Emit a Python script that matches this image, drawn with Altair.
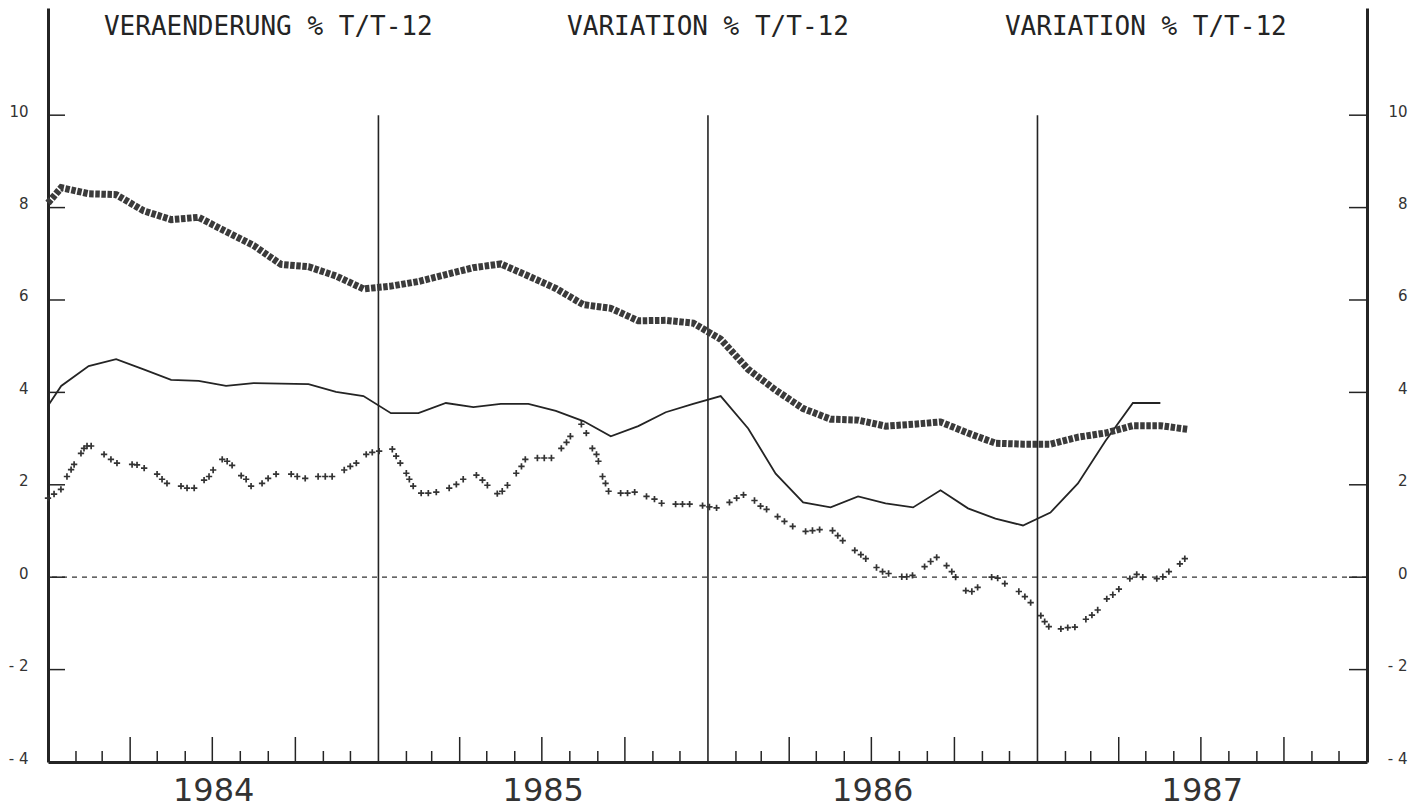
import altair as alt
import pandas as pd

# ---------------- data ----------------
titles = ["VERAENDERUNG % T/T-12", "VARIATION % T/T-12", "VARIATION % T/T-12"]
title_dates = ["1984-09-01T00:00:00", "1986-01-01T00:00:00", "1987-05-01T00:00:00"]
years = [1984, 1985, 1986, 1987]
year_bounds = ["1985-01-01T00:00:00", "1986-01-01T00:00:00", "1987-01-01T00:00:00"]
y_ticks = [-4, -2, 0, 2, 4, 6, 8, 10]

# thick "squares" series: value at 1 Jan 1984, then monthly (mid-month) values
thick_start = 8.10
thick_vals = [8.43, 8.30, 8.28, 7.93, 7.74, 7.79, 7.48, 7.18, 6.77, 6.72, 6.52, 6.24,
              6.30, 6.40, 6.55, 6.70, 6.78, 6.52, 6.25, 5.90, 5.82, 5.55, 5.56, 5.50,
              5.15, 4.50, 4.05, 3.65, 3.42, 3.40, 3.27, 3.31, 3.36, 3.12, 2.90, 2.88,
              2.88, 3.03, 3.12, 3.28, 3.28, 3.20]

# thin solid series
thin_start = 3.71
thin_vals = [4.14, 4.57, 4.72, 4.50, 4.27, 4.25, 4.14, 4.20, 4.19, 4.18, 4.01, 3.92,
             3.55, 3.55, 3.77, 3.68, 3.75, 3.75, 3.60, 3.38, 3.05, 3.27, 3.57, 3.75,
             3.92, 3.22, 2.24, 1.62, 1.51, 1.75, 1.60, 1.51, 1.88, 1.49, 1.27, 1.12,
             1.40, 2.03, 2.95, 3.77, 3.77]

# "+" symbol series: time in months since 1 Jan 1984, value
plus_t = [0.00, 0.22, 0.47, 0.69, 0.84, 0.95, 1.20, 1.31, 1.42, 1.57,
          2.04, 2.29, 2.51, 3.06, 3.24, 3.50, 3.97, 4.15, 4.33, 4.84,
          5.06, 5.32, 5.68, 5.86, 6.01, 6.34, 6.52, 6.70, 7.03, 7.21,
          7.39, 7.79, 8.01, 8.30, 8.85, 9.07, 9.36, 9.83, 10.09, 10.34,
          10.78, 11.00, 11.22, 11.58, 11.80, 12.05, 12.53, 12.67, 12.82, 13.04,
          13.15, 13.29, 13.58, 13.84, 14.13, 14.60, 14.86, 15.11, 15.59, 15.81,
          15.99, 16.35, 16.53, 16.72, 17.04, 17.23, 17.37, 17.81, 18.06, 18.32,
          18.68, 18.87, 19.01, 19.41, 19.59, 19.81, 19.96, 20.03, 20.18, 20.29,
          20.40, 20.84, 21.09, 21.35, 21.78, 22.07, 22.33, 22.84, 23.09, 23.35,
          23.82, 24.07, 24.33, 24.80, 25.06, 25.31, 25.71, 25.93, 26.15, 26.55,
          26.80, 27.10, 27.57, 27.82, 28.08, 28.55, 28.74, 28.92, 29.36, 29.58,
          29.76, 30.15, 30.37, 30.59, 31.07, 31.25, 31.46, 31.90, 32.12, 32.34,
          32.70, 32.89, 33.03, 33.40, 33.62, 33.83, 34.34, 34.56, 34.82, 35.33,
          35.55, 35.76, 36.13, 36.27, 36.42, 36.86, 37.11, 37.37, 37.77, 37.99,
          38.20, 38.53, 38.75, 38.97, 39.37, 39.62, 39.84, 40.35, 40.57, 40.79,
          41.19, 41.37]
plus_v = [1.71, 1.80, 1.90, 2.18, 2.33, 2.44, 2.68, 2.79, 2.84, 2.84,
          2.66, 2.55, 2.47, 2.44, 2.43, 2.36, 2.23, 2.12, 2.03, 1.97,
          1.93, 1.93, 2.10, 2.18, 2.32, 2.55, 2.51, 2.42, 2.20, 2.12,
          1.97, 2.03, 2.14, 2.23, 2.23, 2.18, 2.14, 2.18, 2.18, 2.18,
          2.32, 2.40, 2.47, 2.66, 2.70, 2.73, 2.77, 2.62, 2.47, 2.25,
          2.12, 1.97, 1.82, 1.82, 1.84, 1.93, 2.01, 2.12, 2.21, 2.10,
          1.99, 1.81, 1.86, 1.99, 2.25, 2.40, 2.55, 2.58, 2.58, 2.58,
          2.79, 2.92, 3.05, 3.31, 3.12, 2.79, 2.66, 2.51, 2.18, 2.03,
          1.86, 1.82, 1.82, 1.84, 1.75, 1.69, 1.60, 1.58, 1.58, 1.58,
          1.55, 1.52, 1.50, 1.62, 1.71, 1.78, 1.66, 1.54, 1.47, 1.31,
          1.21, 1.10, 0.99, 1.01, 1.03, 1.01, 0.90, 0.79, 0.58, 0.49,
          0.40, 0.21, 0.12, 0.08, 0.01, 0.01, 0.04, 0.23, 0.34, 0.43,
          0.25, 0.12, 0.00, -0.29, -0.31, -0.22, 0.00, -0.02, -0.14, -0.31,
          -0.42, -0.55, -0.83, -0.96, -1.07, -1.12, -1.09, -1.08, -0.91, -0.82,
          -0.71, -0.47, -0.38, -0.26, -0.03, 0.06, 0.00, -0.03, 0.01, 0.12,
          0.29, 0.40]

# ---------------- helpers ----------------
W, H = 1319, 754
BASE = pd.Timestamp("1984-01-01")


def to_date(t):
    return (BASE + pd.Timedelta(days=t * 30.4375)).strftime("%Y-%m-%dT%H:%M:%S")


thick_df = pd.DataFrame({
    "date": [to_date(0)] + [to_date(k + 0.48) for k in range(len(thick_vals))],
    "v": [thick_start] + thick_vals,
})
thin_df = pd.DataFrame({
    "date": [to_date(0)] + [to_date(k + 0.48) for k in range(len(thin_vals))],
    "v": [thin_start] + thin_vals,
})
plus_df = pd.DataFrame({"date": [to_date(t) for t in plus_t], "v": plus_v})

months = pd.date_range("1984-02-01", "1987-12-01", freq="MS")
minor_df = pd.DataFrame({"date": [m.strftime("%Y-%m-%dT00:00:00") for m in months if m.month not in (1, 4, 7, 10)]})
major_df = pd.DataFrame({"date": [m.strftime("%Y-%m-%dT00:00:00") for m in months if m.month in (4, 7, 10)]})
bounds_df = pd.DataFrame({"date": year_bounds})
yt_df = pd.DataFrame({"v": [v for v in y_ticks if v > -4]})
title_df = pd.DataFrame({"date": title_dates, "label": titles})
axis_df = pd.DataFrame({"date": [to_date(0)], "v": [0.0]})

INK = "#242424"
XS = alt.Scale(domain=[alt.DateTime(year=1984, month=1, date=1),
                       alt.DateTime(year=1988, month=1, date=1)])
YS = alt.Scale(domain=[-4, 12.32], nice=False, zero=False)
LABEL_EXPR = "datum.value < 0 ? '- ' + (-datum.value) : '' + datum.value"


def X(field="date:T", axis=None):
    return alt.X(field, scale=XS, axis=axis)


def Y(field="v:Q", axis=None):
    return alt.Y(field, scale=YS, axis=axis)


# zero reference line
zero = alt.Chart(axis_df).mark_rule(color="#333", strokeWidth=1.2, strokeDash=[5, 5]).encode(
    y=alt.YDatum(0, scale=YS, axis=None)
)

# year separators
bounds = alt.Chart(bounds_df).mark_rule(color=INK, strokeWidth=1.6).encode(
    x=X(), y=alt.YDatum(10, scale=YS, axis=None), y2=alt.Y2Datum(-4)
)

# inward month / quarter ticks on the time axis
minor = alt.Chart(minor_df).mark_rule(color=INK, strokeWidth=1.5).encode(
    x=X(), y=alt.value(H), y2=alt.value(H - 11)
)
major = alt.Chart(major_df).mark_rule(color=INK, strokeWidth=1.5).encode(
    x=X(), y=alt.value(H), y2=alt.value(H - 25)
)

# inward value ticks on both sides
lt = alt.Chart(yt_df).mark_rule(color=INK, strokeWidth=1.5).encode(
    y=Y(), x=alt.value(0), x2=alt.value(17)
)
rt = alt.Chart(yt_df).mark_rule(color=INK, strokeWidth=1.5).encode(
    y=Y(), x=alt.value(W - 18), x2=alt.value(W)
)

# series
thick = alt.Chart(thick_df).mark_line(
    color="#3b3b3b", strokeWidth=7, strokeDash=[4.5, 1.6], strokeCap="butt", strokeJoin="miter"
).encode(x=X(), y=Y())

thin = alt.Chart(thin_df).mark_line(color=INK, strokeWidth=1.8).encode(x=X(), y=Y())

plus = alt.Chart(plus_df).mark_point(
    shape="M-1,0H1M0,-1V1", filled=False, size=40, strokeWidth=1.7, color="#333", opacity=1
).encode(x=X(), y=Y())

# header texts
heads = alt.Chart(title_df).mark_text(
    font="DejaVu Sans Mono", fontSize=26, color=INK, align="center", baseline="alphabetic"
).encode(x=X(), y=alt.value(27), text="label:N")

# axis holders
axis_common = dict(
    values=y_ticks, ticks=False, tickSize=0, domain=True, domainWidth=3, domainColor=INK,
    labelFont="DejaVu Sans", labelFontSize=15, labelColor="#333", grid=False, title=None,
    labelOffset=-4, labelExpr=LABEL_EXPR,
)
x_axis = alt.Axis(
    values=[alt.DateTime(year=y, month=7, date=2) for y in years], format="%Y",
    ticks=False, tickSize=0, domain=True, domainWidth=3, domainColor=INK,
    labelFont="DejaVu Sans", labelFontSize=32, labelColor="#333", labelPadding=13,
    labelFlush=False, labelOverlap=False, labelBound=False, grid=False, title=None,
)
left_axis = alt.Chart(axis_df).mark_point(opacity=0).encode(
    x=X(axis=x_axis),
    y=Y(axis=alt.Axis(orient="left", labelPadding=20, labelAlign="right", **axis_common)),
)
right_axis = alt.Chart(axis_df).mark_point(opacity=0).encode(
    x=X(),
    y=Y(axis=alt.Axis(orient="right", labelPadding=40, labelAlign="right", **axis_common)),
)

chart = alt.layer(
    zero, bounds, minor, major, lt, rt, thin, thick, plus, heads, left_axis, right_axis
).resolve_axis(y="independent", x="independent").properties(
    width=W, height=H,
    autosize=alt.AutoSizeParams(type="none"),
    padding={"left": 40, "top": 0, "right": 42, "bottom": 56},
    background="#ffffff",
).configure_view(stroke=None)

chart.save("out.html", embed_options={"renderer": "svg", "actions": False})
